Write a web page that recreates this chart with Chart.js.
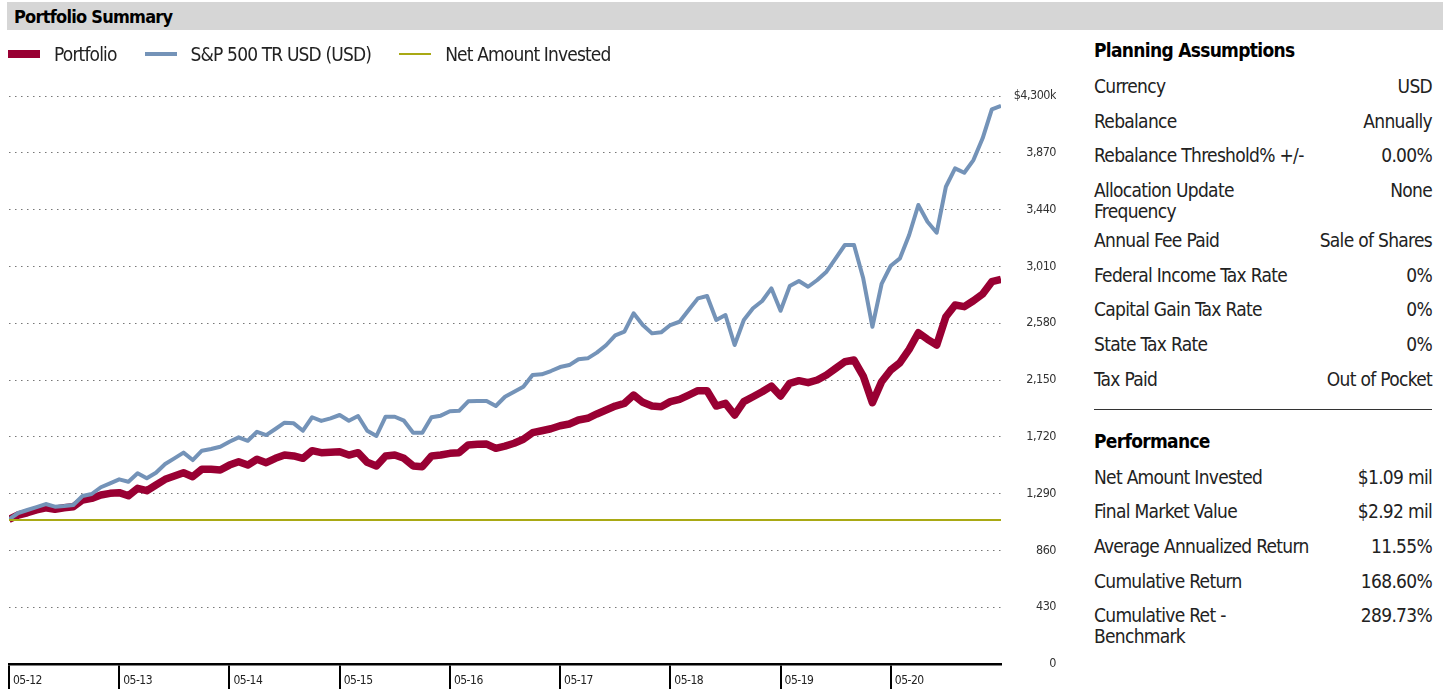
<!DOCTYPE html>
<html>
<head>
<meta charset="utf-8">
<script src="https://cdn.jsdelivr.net/npm/chart.js@4.4.1/dist/chart.umd.min.js"></script>
<style>
    body { margin: 0; width: 1445px; height: 689px; overflow: hidden; background: #fff;
        font-family: "Liberation Sans Narrow", "DejaVu Sans Condensed", "Roboto Condensed", sans-serif;
        font-stretch: condensed; color: #1a1a1a; }
    #header { position: absolute; left: 7px; top: 2px; width: 1436px; height: 28px; background: #d6d6d6; }
    #header span { position: absolute; left: 7px; top: 4px; font-weight: bold; font-size: 18px; color: #000; letter-spacing: -0.75px; }
    #legend { position: absolute; left: 8px; top: 42px; height: 24px; display: flex; align-items: center; font-size: 19px; color: #222; letter-spacing: -0.85px; }
    #legend .item { display: flex; align-items: center; margin-right: 28px; }
    #legend .sw { width: 32px; margin-right: 14px; }
    #chartWrap { position: absolute; left: 0; top: 0; width: 1056px; height: 689px; }
    #panel { position: absolute; left: 1094px; top: 36px; width: 338px; font-size: 19px; color: #222; letter-spacing: -0.7px; }
    #panel h3 { margin: 0; font-size: 19px; font-weight: bold; color: #000; height: 40px; line-height: 28px; letter-spacing: -0.7px; }
    #panel .row { display: flex; justify-content: space-between; height: 34.7px; line-height: 21px; }
    #panel .row.tall { height: 50px; }
    #panel .sep { border-top: 1.5px solid #333; margin: 5px 0 17px 0; }
</style>
</head>
<body>
<div id="chartWrap"><canvas id="growthChart" width="1056" height="689"></canvas></div>
<div id="header"><span>Portfolio Summary</span></div>
<div id="legend"></div>
<div id="panel"></div>
<script>
// monthly values, May 2012 .. May 2021 ($k)
var portfolio = [1095, 1128, 1145, 1166, 1183, 1171, 1183, 1191, 1241, 1254, 1279, 1292,
    1297, 1274, 1330, 1312, 1355, 1398, 1423, 1448, 1418, 1474, 1474, 1469,
    1506, 1531, 1506, 1550, 1524, 1557, 1582, 1575, 1557, 1615, 1600, 1603,
    1607, 1582, 1600, 1527, 1499, 1575, 1582, 1557, 1499, 1494, 1575, 1582,
    1595, 1600, 1658, 1663, 1665, 1633, 1650, 1671, 1701, 1751, 1766, 1781,
    1804, 1817, 1847, 1860, 1893, 1923, 1953, 1973, 2036, 1981, 1953, 1948,
    1986, 2004, 2036, 2069, 2069, 1953, 1973, 1885, 1986, 2023, 2061, 2104,
    2029, 2125, 2145, 2130, 2150, 2188, 2238, 2288, 2301, 2180, 1978, 2137,
    2226, 2281, 2382, 2508, 2458, 2415, 2629, 2718, 2705, 2750, 2801, 2894,
    2912];
var sp500 = [1095, 1143, 1166, 1188, 1211, 1191, 1196, 1204, 1272, 1287, 1338, 1368,
    1398, 1380, 1444, 1406, 1448, 1514, 1557, 1600, 1544, 1615, 1628, 1645,
    1683, 1716, 1690, 1758, 1733, 1779, 1827, 1822, 1766, 1868, 1840, 1860,
    1885, 1842, 1877, 1766, 1726, 1872, 1872, 1842, 1751, 1751, 1868, 1880,
    1913, 1917, 1989, 1991, 1991, 1953, 2023, 2061, 2099, 2188, 2193, 2218,
    2248, 2263, 2307, 2314, 2357, 2413, 2488, 2516, 2655, 2566, 2503, 2511,
    2566, 2591, 2680, 2768, 2786, 2604, 2642, 2415, 2604, 2693, 2748, 2844,
    2674, 2861, 2899, 2856, 2907, 2970, 3071, 3172, 3172, 2920, 2553, 2877,
    3015, 3071, 3248, 3475, 3348, 3265, 3613, 3752, 3719, 3815, 3980, 4199,
    4226];
var netInvested = 1090;
var yearLabels = ['05-12', '05-13', '05-14', '05-15', '05-16', '05-17', '05-18', '05-19', '05-20'];
var yTicks = [0, 430, 860, 1290, 1720, 2150, 2580, 3010, 3440, 3870, 4300];

var seriesNames = ['Portfolio', 'S&P 500 TR USD (USD)', 'Net Amount Invested'];
var seriesColors = ['#990033', '#7493b8', '#a9a914'];

var planning = [['Currency', 'USD'], ['Rebalance', 'Annually'], ['Rebalance Threshold% +/-', '0.00%'],
    ['Allocation Update<br>Frequency', 'None'], ['Annual Fee Paid', 'Sale of Shares'],
    ['Federal Income Tax Rate', '0%'], ['Capital Gain Tax Rate', '0%'], ['State Tax Rate', '0%'],
    ['Tax Paid', 'Out of Pocket']];
var performance = [['Net Amount Invested', '$1.09 mil'], ['Final Market Value', '$2.92 mil'],
    ['Average Annualized Return', '11.55%'], ['Cumulative Return', '168.60%'],
    ['Cumulative Ret -<br>Benchmark', '289.73%']];

document.addEventListener("DOMContentLoaded", function () {
    var fontFam = '"Liberation Sans Narrow", "DejaVu Sans Condensed", sans-serif';

    // legend
    var legend = document.getElementById('legend');
    var swH = [8, 4, 2];
    seriesNames.forEach(function (name, i) {
        legend.innerHTML += '<div class="item"><div class="sw" style="height:' + swH[i] + 'px;background:' +
            seriesColors[i] + '"></div><span>' + name.replace('&', '&amp;') + '</span></div>';
    });

    // right panel
    function rows(list) {
        return list.map(function (r) {
            var tall = r[0].indexOf('<br>') >= 0 ? ' tall' : '';
            return '<div class="row' + tall + '"><span>' + r[0] + '</span><span>' + r[1] + '</span></div>';
        }).join('');
    }
    document.getElementById('panel').innerHTML = '<h3>Planning Assumptions</h3>' + rows(planning) +
        '<div class="sep"></div><h3>Performance</h3>' + rows(performance);

    var toPoints = function (arr) {
        return arr.map(function (v, i) { return { x: i, y: v }; });
    };

    // tighter text on the canvas, like the condensed face of the original
    var condensed = {
        id: 'condensed',
        beforeDraw: function (chart) { chart.ctx.letterSpacing = '-0.5px'; }
    };

    var ctx = document.getElementById('growthChart').getContext('2d');
    var chart = new Chart(ctx, {
        type: 'line',
        data: {
            datasets: [{
                label: seriesNames[2],
                data: [{ x: 0, y: netInvested }, { x: portfolio.length - 1, y: netInvested }],
                borderColor: seriesColors[2],
                borderWidth: 2
            }, {
                label: seriesNames[1],
                data: toPoints(sp500),
                borderColor: seriesColors[1],
                borderWidth: 4
            }, {
                label: seriesNames[0],
                data: toPoints(portfolio),
                borderColor: seriesColors[0],
                borderWidth: 7.5
            }]
        },
        plugins: [condensed],
        options: {
            responsive: false,
            animation: false,
            layout: { padding: { left: 9, top: 96, right: 0, bottom: 0 } },
            elements: { point: { radius: 0 }, line: { tension: 0, borderJoinStyle: 'round', borderCapStyle: 'butt' } },
            plugins: { legend: { display: false }, tooltip: { enabled: false } },
            scales: {
                x: {
                    type: 'linear',
                    min: 0,
                    max: portfolio.length - 1,
                    afterBuildTicks: function (scale) {
                        scale.ticks = yearLabels.map(function (l, i) { return { value: i * 12 }; });
                    },
                    afterFit: function (scale) { scale.height = 25; },
                    grid: { drawOnChartArea: false, drawTicks: true, tickLength: 25, color: '#000', lineWidth: 2 },
                    border: { display: true, color: '#000', width: 2.5 },
                    ticks: {
                        autoSkip: false,
                        maxRotation: 0,
                        align: 'start',
                        padding: -15,
                        labelOffset: 4,
                        color: '#222',
                        font: { family: fontFam, size: 12 },
                        callback: function (v) { return yearLabels[v / 12]; }
                    }
                },
                y: {
                    position: 'right',
                    min: 0,
                    max: 4300,
                    afterBuildTicks: function (scale) {
                        scale.ticks = yTicks.map(function (v) { return { value: v }; });
                    },
                    afterFit: function (scale) { scale.width = 55; },
                    grid: { drawTicks: false, color: '#777', lineWidth: 1 },
                    border: { display: false, dash: [1.5, 4.5] },
                    ticks: {
                        crossAlign: 'far',
                        padding: 0,
                        color: '#333',
                        font: { family: fontFam, size: 12.5 },
                        callback: function (v) { return v === 4300 ? '$4,300k' : v.toLocaleString('en-US'); }
                    }
                }
            }
        }
    });
});
</script>
</body>
</html>
